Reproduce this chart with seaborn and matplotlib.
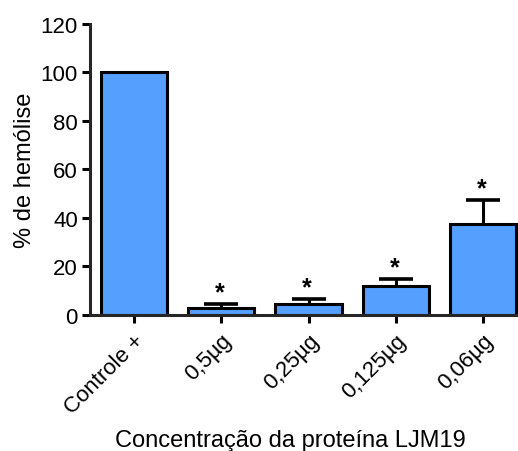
import numpy as np
import pandas as pd
import matplotlib
matplotlib.use("Agg")
import matplotlib.pyplot as plt
import seaborn as sns

# Hemolysis (%) by LJM19 protein concentration
categories = ["Controle +", "0,5µg", "0,25µg", "0,125µg", "0,06µg"]
hemolise = [100.0, 2.6, 4.5, 11.9, 37.2]
erro_sup = [0.0, 1.7, 2.0, 2.8, 10.0]
significativo = [False, True, True, True, True]

sns.set_theme(style="ticks")
plt.rcParams["font.family"] = ["Liberation Sans", "DejaVu Sans"]

fig = plt.figure(figsize=(5.18, 4.52), dpi=100)
ax = fig.add_axes([90 / 518, 136.3 / 452, 1 - 90 / 518, (315.7 - 24.5) / 452])

df = pd.DataFrame({"grupo": categories, "hemolise": hemolise})
sns.barplot(data=df, x="grupo", y="hemolise", color="#559FFF", saturation=1,
            edgecolor="black", linewidth=2.2, width=0.76, errorbar=None, ax=ax)

# upper-only error bars (SEM)
x = np.arange(len(categories))
mask = np.array(erro_sup) > 0
_, caps, _ = ax.errorbar(x[mask], np.array(hemolise)[mask],
                         yerr=[np.zeros(mask.sum()), np.array(erro_sup)[mask]],
                         fmt="none", ecolor="black", elinewidth=2.2,
                         capsize=12.5, capthick=2.6, zorder=3)
caps[0].set_visible(False)

for xi, yi, ei, sig in zip(x, hemolise, erro_sup, significativo):
    if sig:
        ax.annotate("*", xy=(xi, yi + ei), xytext=(-1, 3.5),
                    textcoords="offset points", ha="center", va="baseline",
                    fontsize=18, fontweight="bold", color="black")

ax.set_ylim(0, 120)
ax.set_xlim(-0.504, 4.4)
ax.set_yticks(np.arange(0, 121, 20))
ax.set_xticks(x)
ax.set_xticklabels(categories, rotation=45, ha="right", rotation_mode="anchor")

for side in ["top", "right"]:
    ax.spines[side].set_visible(False)
for side in ["left", "bottom"]:
    ax.spines[side].set_linewidth(2.2)
ax.tick_params(axis="both", width=2.2, length=5.8, labelsize=16, color="black",
               labelcolor="black")
ax.tick_params(axis="y", pad=3)
ax.tick_params(axis="x", pad=5)

ax.set_ylabel("% de hemólise", fontsize=17, color="black", labelpad=3)
ax.set_xlabel("Concentração da proteína LJM19", fontsize=17, color="black")
ax.xaxis.set_label_coords(0.467, -0.393)

fig.savefig("out.png", dpi=100)
